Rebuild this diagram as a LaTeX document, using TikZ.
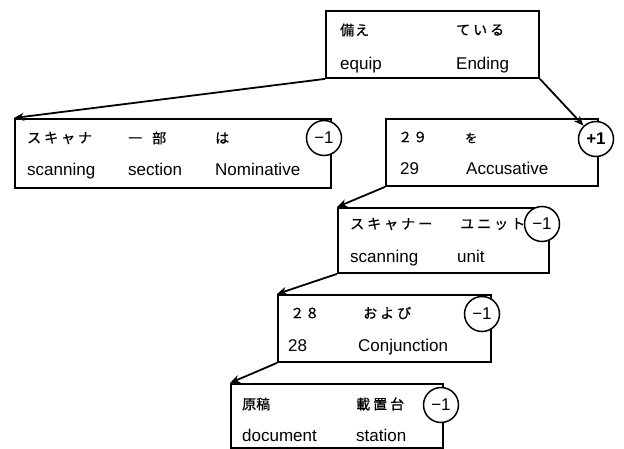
\documentclass[tikz,border=0pt]{standalone}
\usepackage{fontspec}
\usetikzlibrary{arrows.meta}
\setmainfont{Liberation Sans}
\newfontfamily\jp[FakeBold=0.8]{Noto Sans CJK JP}
\begin{document}
\begin{tikzpicture}[x=1pt,y=-1pt,
  box/.style={draw,line width=1.9pt,anchor=north west,inner sep=0pt},
  badge/.style={draw,circle,fill=white,line width=1.5pt,minimum size=35pt,inner sep=0pt,font=\fontsize{17}{18}\selectfont},
  lat/.style={anchor=base west,inner sep=0pt,font=\fontsize{17}{19}\selectfont},
  jpt/.style={anchor=west,inner sep=0pt,font=\jp\fontsize{14}{16}\selectfont},
  arr/.style={line width=1.8pt,-{Stealth[length=10pt,width=8pt]}}]
\useasboundingbox (0,0) rectangle (624,449);
% boxes
\node[box,minimum width=213pt,minimum height=67pt] (b1) at (325,10) {};
\node[box,minimum width=316pt,minimum height=69pt] (b2) at (14,118) {};
\node[box,minimum width=212pt,minimum height=67pt] (b3) at (385,118) {};
\node[box,minimum width=211pt,minimum height=65pt] (b4) at (337,207) {};
\node[box,minimum width=213pt,minimum height=67pt] (b5) at (277,294) {};
\node[box,minimum width=212pt,minimum height=64pt] (b6) at (230,383) {};
% badges
\node[badge] (c2) at (324,138) {\textminus1};
\node[badge] (c3) at (596,139) {\textbf{+1}};
\node[badge] (c4) at (542,224) {\textminus1};
\node[badge] (c5) at (482,314) {\textminus1};
\node[badge] (c6) at (441,405) {\textminus1};
% box 1
\node[jpt] (t1a) at (340,30) {備\kern1ptえ};
\node[jpt] (t1b) at (456,30) {て\kern3ptい\kern3ptる};
\node[lat] (t1c) at (340,70) {equip};
\node[lat] (t1d) at (456,70) {Ending};
% box 2
\node[jpt] (t2a) at (27,138) {ス\kern3ptキ\kern3ptャ\kern3ptナ};
\node[jpt] (t2b) at (128,138) {一\kern10pt部};
\node[jpt] (t2c) at (215,138) {は};
\node[lat] (t2d) at (27,176) {scanning};
\node[lat] (t2e) at (128,176) {section};
\node[lat] (t2f) at (215,176) {Nominative};
% box 3
\node[jpt] (t3a) at (398,137) {２\kern1pt９};
\node[jpt,font=\jp\fontsize{12}{14}\selectfont] (t3b) at (465,138) {を};
\node[lat] (t3c) at (400,175) {29};
\node[lat] (t3d) at (466,175) {Accusative};
% box 4
\node[jpt] (t4a) at (350,224) {ス\kern3ptキ\kern3ptャ\kern3ptナ\kern3ptー};
\node[jpt] (t4b) at (460,224) {ユ\kern3ptニ\kern3ptッ\kern3ptト};
\node[lat] (t4c) at (350,262) {scanning};
\node[lat] (t4d) at (457,262) {unit};
% box 5
\node[jpt] (t5a) at (290,313) {２\kern1pt８};
\node[jpt] (t5b) at (363,313) {お\kern3ptよ\kern3ptび};
\node[lat] (t5c) at (288,351) {28};
\node[lat] (t5d) at (358,351) {Conjunction};
% box 6
\node[jpt] (t6a) at (242,404) {原稿};
\node[jpt] (t6b) at (356,404) {載\kern3pt置\kern3pt台};
\node[lat] (t6c) at (242,441) {document};
\node[lat] (t6d) at (356,441) {station};
% connectors
\draw[arr] (b1.south west) -- (b2.north west);
\draw[arr] (b1.south east) -- (c3);
\draw[arr] (b3.south west) -- (b4.north west);
\draw[arr] (b4.south west) -- (b5.north west);
\draw[arr] (b5.south west) -- (b6.north west);
\end{tikzpicture}
\end{document}
